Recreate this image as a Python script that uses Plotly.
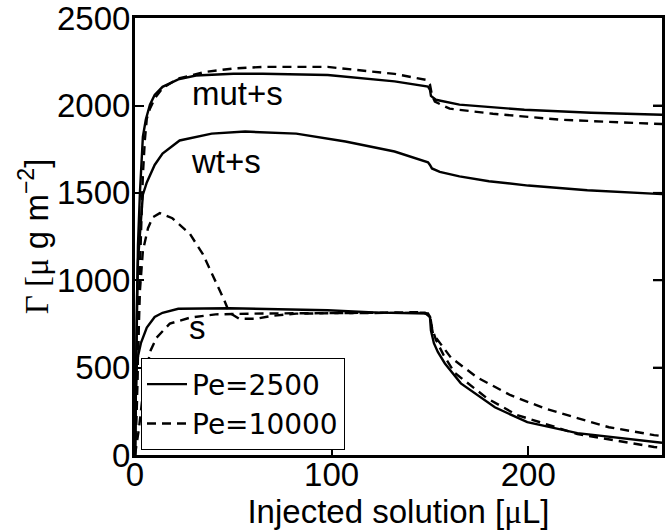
import plotly.graph_objects as go

# ---- data ----
mut_2500_x = [0, 0.5, 1, 1.5, 2.5, 4, 5.5, 7.6, 10, 14, 22, 31, 50, 65, 98, 132, 149, 150, 150.5, 153, 165, 198, 232, 268]
mut_2500_y = [0, 500, 900, 1200, 1500, 1820, 1920, 2005, 2060, 2107, 2150, 2172, 2182, 2182, 2175, 2138, 2108, 2090, 2055, 2033, 2005, 1976, 1959, 1947]

mut_10000_x = [0, 1, 2, 3, 4, 5, 6, 7.6, 10, 14, 22, 36, 50, 65, 98, 132, 148, 150, 151, 152.5, 160, 182, 216, 263, 268]
mut_10000_y = [0, 300, 900, 1300, 1600, 1800, 1925, 1982, 2040, 2100, 2155, 2193, 2212, 2221, 2221, 2181, 2147, 2120, 2060, 2022, 1982, 1953, 1919, 1896, 1894]

wt_2500_x = [0, 0.5, 1, 1.5, 2.5, 4, 6, 7.6, 10, 14, 22.7, 39, 56, 82, 107, 132, 149, 150, 151, 155, 165, 180, 200, 230, 268]
wt_2500_y = [0, 500, 900, 1110, 1270, 1490, 1560, 1600, 1660, 1725, 1800, 1839, 1851, 1839, 1794, 1737, 1675, 1660, 1640, 1620, 1595, 1567, 1542, 1515, 1493]

wt_10000_x = [0, 1, 2.5, 4, 6.6, 9, 12.6, 19, 28, 34.5, 41, 45.5, 48, 53, 61.6, 70, 82, 122, 147, 150, 151.5, 160.6, 174, 191, 208, 225, 241, 264, 268]
wt_10000_y = [0, 400, 940, 1167, 1298, 1360, 1384, 1355, 1264, 1150, 997, 883, 814, 780, 780, 797, 809, 812, 818, 790, 695, 558, 444, 342, 268, 211, 159, 114, 108]

s_2500_x = [0, 0.3, 1, 3, 6, 10, 14, 22, 48, 98, 124, 149, 150, 150.5, 152, 154, 157.6, 165.7, 183, 199.5, 225, 264, 268]
s_2500_y = [0, 300, 540, 640, 729, 790, 814, 837, 840, 828, 815, 810, 790, 712, 640, 590, 524, 410, 273, 188, 125, 74, 70]

s_10000_x = [0, 2, 4, 6, 8, 11, 17.7, 28, 41, 65, 100, 147, 150, 151, 153, 157, 162.6, 179, 194, 225, 264, 268]
s_10000_y = [0, 150, 350, 501, 600, 672, 752, 786, 805, 810, 812, 814, 800, 730, 660, 570, 470, 325, 230, 120, 46, 42]

legend_names = ["Pe=2500", "Pe=10000"]
curve_labels = ["mut+s", "wt+s", "s"]
label_x = [52, 46.5, 31.8]
label_y = [2067, 1680, 729]

x_ticks = [0, 100, 200]
y_ticks = [0, 500, 1000, 1500, 2000, 2500]

FONT = "Liberation Sans, Arial, Helvetica, sans-serif"
FS = 33
LW = 2.4
DASH = "9px,6px"

fig = go.Figure()

series = [
    (mut_2500_x, mut_2500_y, "solid", True, legend_names[0]),
    (mut_10000_x, mut_10000_y, DASH, True, legend_names[1]),
    (wt_2500_x, wt_2500_y, "solid", False, legend_names[0]),
    (wt_10000_x, wt_10000_y, DASH, False, legend_names[1]),
    (s_2500_x, s_2500_y, "solid", False, legend_names[0]),
    (s_10000_x, s_10000_y, DASH, False, legend_names[1]),
]
for xs, ys, dash, show, name in series:
    fig.add_trace(go.Scatter(
        x=xs, y=ys, mode="lines", name=name, showlegend=show,
        line=dict(color="black", width=LW, dash=dash),
        hoverinfo="skip",
    ))

for txt, lx, ly in zip(curve_labels, label_x, label_y):
    fig.add_annotation(x=lx, y=ly, text=txt, showarrow=False,
                       font=dict(family=FONT, size=FS, color="black"),
                       xanchor="center", yanchor="middle")

# y-axis title as rotated text
fig.add_annotation(xref="paper", yref="paper", x=-0.192, y=0.5,
                   text='<span style="font-family:Liberation Serif">Γ [μ</span> g m<sup>−2</sup>]',
                   textangle=-90, showarrow=False, xanchor="center", yanchor="middle",
                   font=dict(family=FONT, size=FS, color="black"))

# right-hand inward tick marks (mirrored y ticks)
for yv in y_ticks[1:-1]:
    fig.add_shape(type="line", xref="paper", yref="y", x0=0.983, x1=1.0, y0=yv, y1=yv,
                  line=dict(color="black", width=2), layer="above")

fig.update_layout(
    width=665, height=530,
    margin=dict(l=135, r=0, t=16, b=75),
    paper_bgcolor="white", plot_bgcolor="white",
    font=dict(family=FONT, size=FS, color="black"),
    legend=dict(x=0.011, y=0.011, xanchor="left", yanchor="bottom",
                bgcolor="white", bordercolor="black", borderwidth=1.2,
                font=dict(family="DejaVu Sans, sans-serif", size=28, color="black"),
                itemwidth=40, tracegroupgap=0),
    xaxis=dict(range=[0, 268], tickvals=x_ticks, ticktext=[str(v) for v in x_ticks],
               showgrid=False, zeroline=False, showline=True, linecolor="black",
               linewidth=3, mirror=True, ticks="inside", ticklen=9, tickwidth=2,
               tickcolor="black", tickfont=dict(family=FONT, size=FS),
               ticklabeloverflow="allow", ticklabelstandoff=-12,
               title=dict(text='Injected solution [<span style="font-family:Liberation Serif">μ</span>L]',
                          font=dict(family=FONT, size=FS), standoff=8)),
    yaxis=dict(range=[0, 2501], tickvals=y_ticks, ticktext=[str(v) for v in y_ticks],
               showgrid=False, zeroline=False, showline=True, linecolor="black",
               linewidth=3, mirror="ticks", ticks="inside", ticklen=9, tickwidth=2,
               tickcolor="black", tickfont=dict(family=FONT, size=FS),
               ticklabeloverflow="allow", ticklabelstandoff=-5),
)

fig.write_html("out.html")
